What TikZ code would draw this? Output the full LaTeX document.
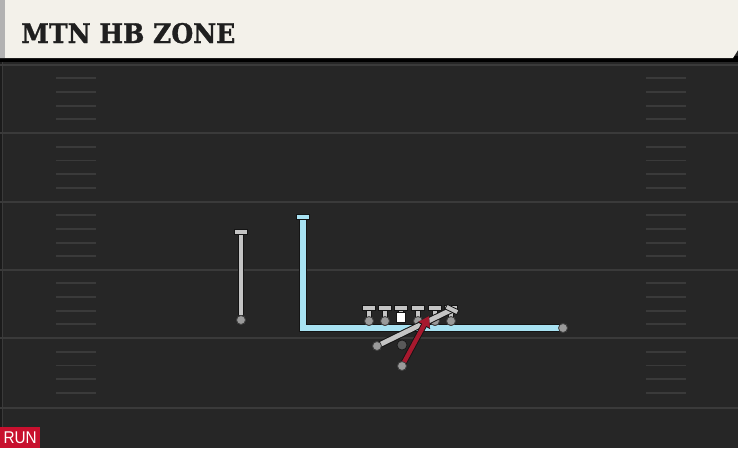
\documentclass[tikz,border=0pt]{standalone}
\usepackage{fontspec}
\setmainfont{DejaVu Serif}
\newfontfamily\titlefont[FakeBold=1.3]{DejaVu Serif Bold}
\newfontfamily\labelfont{Liberation Sans}
\usetikzlibrary{arrows.meta}
\definecolor{field}{HTML}{262626}
\definecolor{fieldline}{HTML}{3A3A3A}
\definecolor{cream}{HTML}{F3F1EA}
\definecolor{routeblue}{HTML}{A8E2F2}
\definecolor{routegray}{HTML}{C4C4C4}
\definecolor{routered}{HTML}{A6192E}
\definecolor{outline}{HTML}{141414}
\definecolor{dotgray}{HTML}{9A9A9A}
\definecolor{runred}{HTML}{C8102E}
\tikzset{
  yardline/.style={draw=fieldline, line width=2pt},
  hashline/.style={draw=fieldline, line width=1.8pt},
  player/.style={circle, fill=dotgray, draw=outline!70!dotgray, line width=0.8pt, minimum size=9pt, inner sep=0pt},
  qbdot/.style={circle, fill=gray!70!black, draw=outline, line width=0.6pt, minimum size=10pt, inner sep=0pt},
  centerbox/.style={rectangle, fill=white, draw=outline, line width=0.6pt, minimum width=9pt, minimum height=10pt, inner sep=0pt},
  thead/.style={rectangle, fill=routegray, draw=outline, line width=0.8pt, minimum width=13pt, minimum height=5pt, inner sep=0pt},
  bluehead/.style={rectangle, fill=routeblue, draw=outline, line width=0.8pt, minimum width=13pt, minimum height=5.5pt, inner sep=0pt},
  graypath/.style={draw=routegray, line width=4.8pt, preaction={draw=outline, line width=6.8pt}},
  bluepath/.style={draw=routeblue, line width=5.2pt, preaction={draw=outline, line width=7.2pt}},
  redpath/.style={draw=routered, line width=4.4pt, -{Triangle[length=10pt,width=12pt]}, preaction={draw=outline, line width=6.2pt, -{Triangle[length=11pt,width=13.5pt]}}},
}
\begin{document}
\begin{tikzpicture}[x=1pt,y=-1pt]
\useasboundingbox (0,0) rectangle (738,448);
% field
\fill[field] (0,0) rectangle (738,448);
\fill[outline!60!field] (0,0) rectangle (3,448);
\draw[fieldline, line width=0.8pt] (2.5,62) -- (2.5,448);
% yard lines
\foreach \y in {64.5,133,201.5,269.5,338,407.5} {
  \draw[yardline] (0,\y) -- (738,\y);
}
% hash marks
\foreach \y in {64.5,133,201.5,269.5,338} {
  \foreach \k in {1,2,3,4} {
    \draw[hashline] (56,\y+13.7*\k) -- (96,\y+13.7*\k);
    \draw[hashline] (646,\y+13.7*\k) -- (686,\y+13.7*\k);
  }
}
% title bar
\fill[black] (0,56) rectangle (738,62);
\fill[cream] (0,0) -- (738,0) -- (738,50) -- (733,58) -- (0,58) -- cycle;
\fill[gray!60] (0,0) rectangle (5,58);
\node[anchor=base west, inner sep=0pt, text=black!88] (title) at (21,43)
  {\scalebox{0.93}[1]{\titlefont\fontsize{27}{27}\selectfont MTN HB ZONE}};
% RUN label
\node[fill=runred, text=white, anchor=south west, minimum width=40pt, minimum height=21pt, inner sep=0pt] (run) at (0,448)
  {\scalebox{0.9}[1]{\labelfont\fontsize{17}{17}\selectfont RUN}};

% left receiver
\node[thead] (lh) at (241,232) {};
\node[player] (lwr) at (241,320) {};
\draw[graypath] (lwr) -- (lh.center);
\node[thead] at (241,232) {};
\node[player] at (241,320) {};

% blue route
\node[bluehead] (bh) at (303,217) {};
\node[player] (rwr) at (563,328) {};
\draw[bluepath] (rwr.center) -| (bh.center);
\node[bluehead] at (303,217) {};
\node[player] at (563,328) {};

% offensive line
\foreach \n/\x in {a/369,b/385,d/418,e/435,f/451} {
  \node[player] (ol\n) at (\x,321) {};
  \node[thead] (oh\n) at (\x,307.5) {};
  \draw[graypath] (ol\n.center) -- (oh\n.center);
  \node[thead] at (\x,307.5) {};
  \node[player] at (\x,321) {};
}
\node[thead] (ohc) at (401,307.5) {};
\node[centerbox] (olc) at (401,317) {};
\draw[graypath] (olc.north) -- (ohc.center);
\node[thead] at (401,307.5) {};
\node[centerbox] at (401,317) {};

% fullback block
\node[player] (fb) at (377,346) {};
\coordinate (fbend) at (452,309.5);
\draw[graypath] (fb.center) -- (fbend);
\node[thead, rotate=-26] at (fbend) {};
\node[player] at (377,346) {};

% quarterback
\node[qbdot] (qb) at (402,345) {};

% running back
\node[player] (rb) at (402,366) {};
\coordinate (rbend) at (429,316);
\draw[redpath] (rb.center) -- (rbend);
\node[player] at (402,366) {};
\end{tikzpicture}
\end{document}
